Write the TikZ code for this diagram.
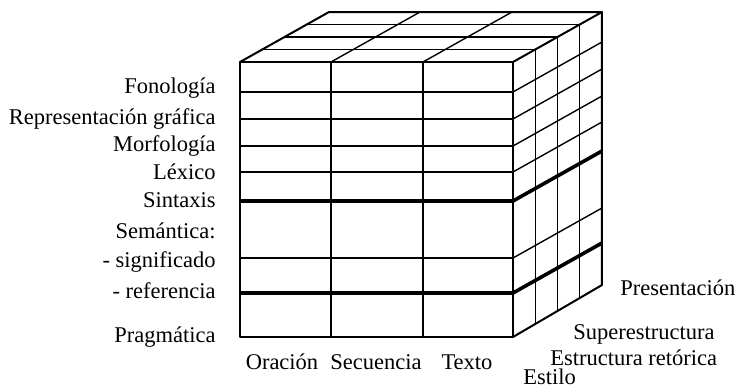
\documentclass[tikz,border=0pt]{standalone}
\usepackage{fontspec}
\setmainfont{Liberation Serif}
\begin{document}
\begin{tikzpicture}[x=0.5pt,y=-0.5pt,
  gridln/.style={line width=0.7pt},
  edgeln/.style={line width=1pt, line join=round},
  boldln/.style={line width=1.8pt, line join=round},
  lbl/.style={inner sep=0pt, font=\fontsize{11.25}{13}\selectfont}]
\useasboundingbox (0,0) rectangle (736,386);
% main corners
\coordinate (ftl) at (240,62);
\coordinate (ftr) at (513,62);
\coordinate (fbl) at (240,337);
\coordinate (fbr) at (513,337);
\coordinate (btl) at (329,12);
\coordinate (btr) at (602,12);
\coordinate (bbr) at (602,285);
% top face grid
\foreach \k in {1,2,3}
  \draw[gridln] ({240+22.25*\k},{62-12.5*\k}) -- ({513+22.25*\k},{62-12.5*\k});
\foreach \x in {331,423}
  \draw[gridln] (\x,62) -- ({\x+89},12);
% right face grid
\foreach \k in {1,2,3}
  \draw[gridln] ({513+22.25*\k},{62-12.5*\k}) -- ({513+22.25*\k},{337-13*\k});
\foreach \y in {92,119,146,172,258}
  \draw[gridln] (513,\y) -- (602,{\y-50});
% front face grid
\foreach \y in {92,119,146,172,258}
  \draw[gridln] (240,\y) -- (513,\y);
\foreach \x in {331,423}
  \draw[gridln] (\x,62) -- (\x,337);
% bold divisions
\draw[boldln] (240,201) -- (513,201) -- (602,151);
\draw[boldln] (240,293) -- (513,293) -- (602,243);
% outlines
\draw[edgeln] (ftl) rectangle (fbr);
\draw[edgeln] (ftl) -- (btl) -- (btr) -- (ftr);
\draw[edgeln] (btr) -- (bbr) -- (fbr);
% left labels
\node[lbl, anchor=base east] (fon) at (216,93) {Fonología};
\node[lbl, anchor=base east] (rep) at (216,124) {Representación gráfica};
\node[lbl, anchor=base east] (mor) at (216,151) {Morfología};
\node[lbl, anchor=base east] (lex) at (216,179) {Léxico};
\node[lbl, anchor=base east] (sin) at (216,207) {Sintaxis};
\node[lbl, anchor=base east] (sem) at (216,238) {Semántica:};
\node[lbl, anchor=base east] (sig) at (216,267) {- significado};
\node[lbl, anchor=base east] (ref) at (216,298) {- referencia};
\node[lbl, anchor=base east] (pra) at (216,342) {Pragmática};
% bottom labels
\node[lbl, anchor=base] (ora) at (282,369) {Oración};
\node[lbl, anchor=base] (sec) at (376,369) {Secuencia};
\node[lbl, anchor=base] (tex) at (467,369) {Texto};
% depth labels
\node[lbl, anchor=base west] (pre) at (620,295) {Presentación};
\node[lbl, anchor=base west] (sup) at (573,339) {Superestructura};
\node[lbl, anchor=base west] (est) at (550,365) {Estructura retórica};
\node[lbl, anchor=base west] (sti) at (523,384) {Estilo};
\end{tikzpicture}
\end{document}
